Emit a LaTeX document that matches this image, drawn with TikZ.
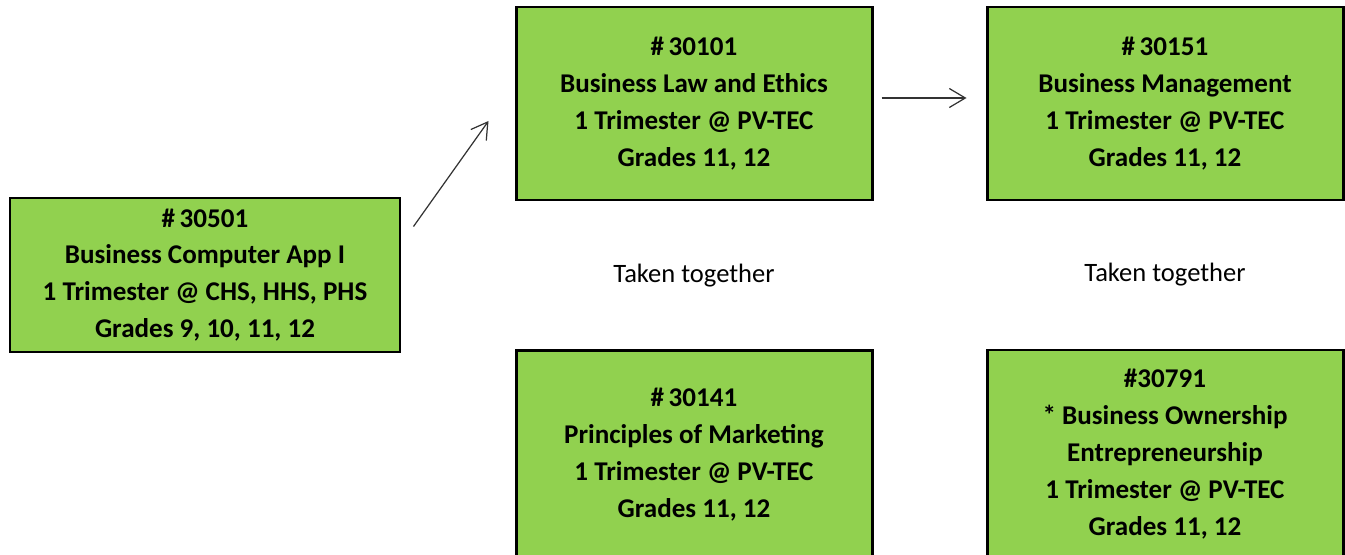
\documentclass[tikz,border=0pt]{standalone}
\usepackage{fontspec}
\setmainfont{Carlito}
\usetikzlibrary{calc}
\usetikzlibrary{positioning}
\usetikzlibrary{arrows.meta}
\definecolor{MyGreen}{rgb}{0.57,0.82,0.31}
\definecolor{MyDarkGrey}{rgb}{0.2,0.2,0.2}
\newcommand{\num}[1]{\#\,#1}

\begin{document}
\begin{tikzpicture}[
        coursebox/.style={draw=black, fill=MyGreen, line width=1.7pt, align=center, inner sep=0pt,
          font=\fontsize{15.4}{21}\selectfont\bfseries},
        notetext/.style={font=\fontsize{15.1}{21}\selectfont},
        link/.style={-{Straight Barb[length=0.32cm,width=0.38cm]}, draw=MyDarkGrey, line width=0.7pt}]
        \clip (0.,0.) rectangle (26.9,11.08);
        \node [coursebox, minimum width=7.8cm, minimum height=3.08cm] (bca) at (4.1,5.58) {\num{30501}\\Business Computer App I\\1 Trimester @ CHS, HHS, PHS\\Grades 9, 10, 11, 12};
        \node [coursebox, minimum width=7.12cm, minimum height=3.86cm] (law) at (13.88,9.01) {\num{30101}\\Business Law and Ethics\\1 Trimester @ PV-TEC\\Grades 11, 12};
        \node [coursebox, minimum width=7.12cm, minimum height=3.86cm] (mgmt) at (23.3,9.01) {\num{30151}\\Business Management\\1 Trimester @ PV-TEC\\Grades 11, 12};
        \node [coursebox, minimum width=7.12cm, minimum height=4.17cm] (mkt) at (13.88,1.985) {\num{30141}\\Principles of Marketing\\1 Trimester @ PV-TEC\\Grades 11, 12};
        \node [coursebox, minimum width=7.12cm, minimum height=4.17cm] (own) at (23.3,1.995) {\#30791\\* Business Ownership\\Entrepreneurship\\1 Trimester @ PV-TEC\\Grades 11, 12};
        \node [notetext] (tog1) at ($(law.south)!0.5!(mkt.north)$) {Taken together};
        \node [notetext] (tog2) at ($(mgmt.south)!0.5!(own.north)$) {Taken together};
        \draw [link] ($(bca.north east)+(0.24,-0.6)$) -- ($(law.west)+(-0.52,-0.35)$);
        \draw [link] ($(law.east)+(0.16,0.11)$) -- ($(mgmt.west)+(-0.38,0.11)$);
      \end{tikzpicture}
\end{document}
